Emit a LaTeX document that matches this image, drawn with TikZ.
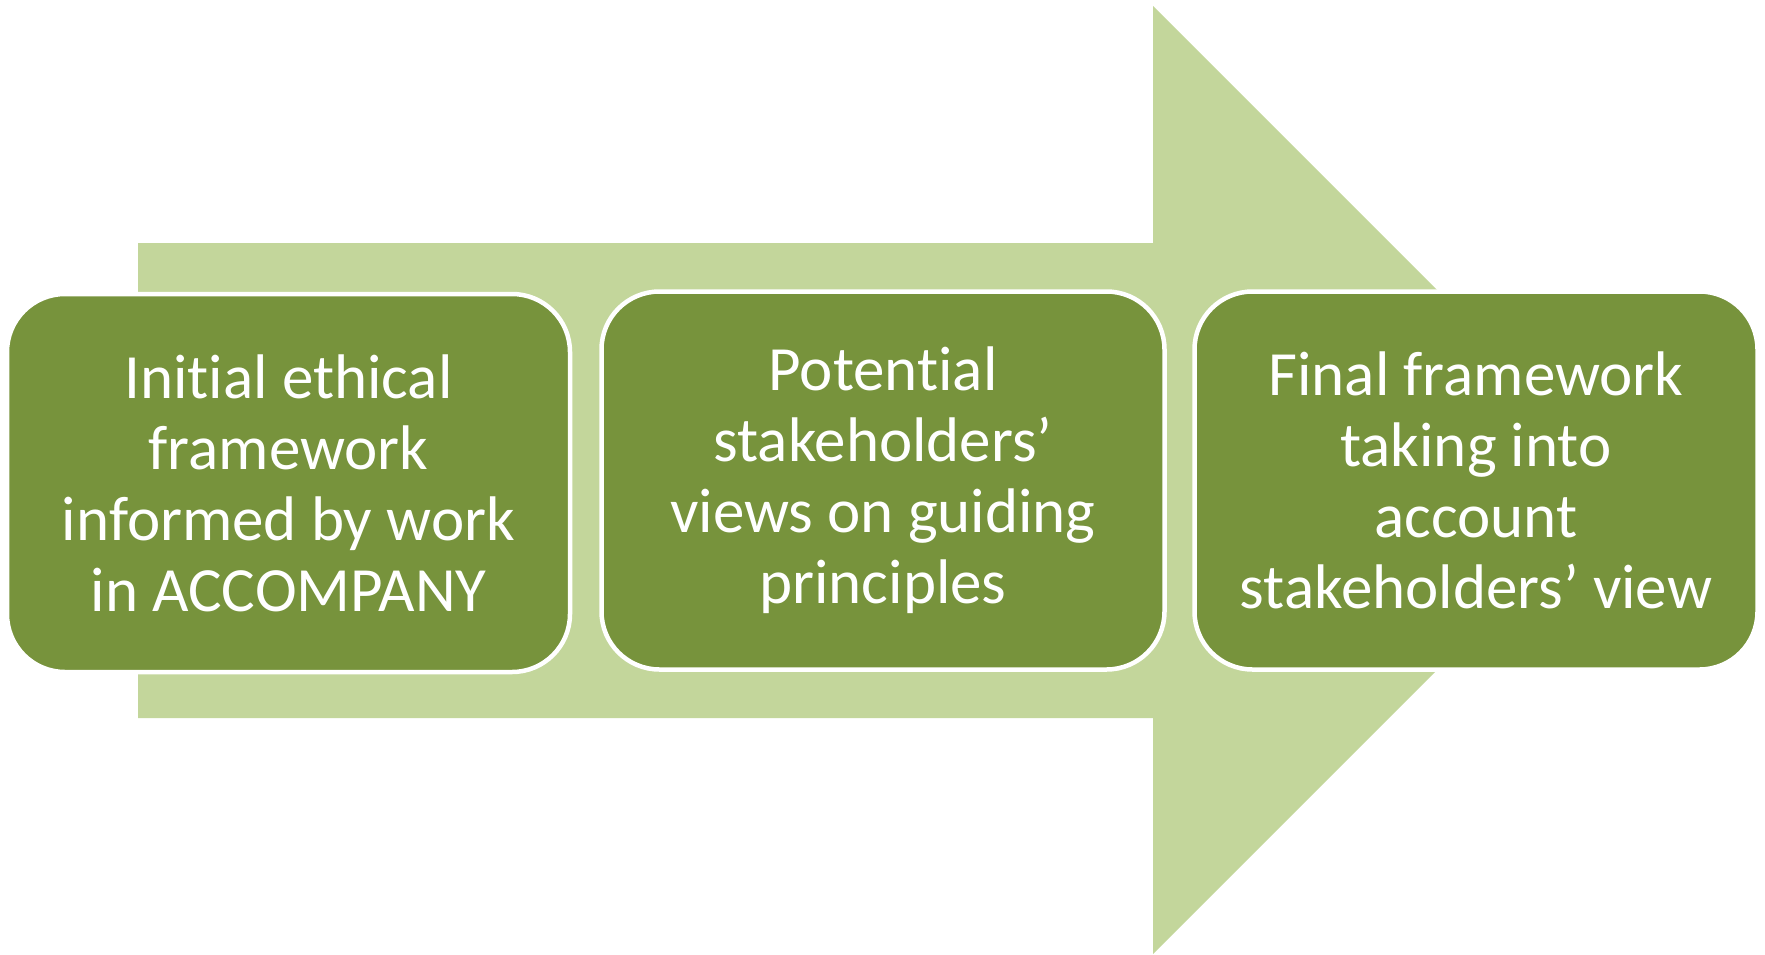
\documentclass[tikz,border=0pt]{standalone}
\usepackage{fontspec}
\setmainfont{Carlito}[Ligatures={NoCommon}]
\definecolor{darkolive}{RGB}{119,147,60}
\definecolor{lightolive}{RGB}{195,214,155}
\begin{document}
\begin{tikzpicture}[x=1pt,y=-1pt,
  stepbox/.style={fill=darkolive,draw=white,line width=4.5pt,rounded corners=58pt,
    minimum width=563pt,minimum height=378pt,inner sep=0pt,
    text=white,align=center,font=\fontsize{63}{71}\selectfont}]
\useasboundingbox (0,0) rectangle (1765,954);
\fill[lightolive] (138,243) -- (1153,243) -- (1153,6) -- (1627,480) -- (1153,954) -- (1153,718) -- (138,718) -- cycle;
\node[stepbox] (b1) at (288.5,483) {Initial ethical\\framework\\informed by work\\in ACCOMPANY};
\node[stepbox] (b2) at (883,480.5) {Potential\\stakeholders’\\views on guiding\\principles};
\node[stepbox] (b3) at (1476,480.5) {Final framework\\taking into\\account\\stakeholders’ view};
\end{tikzpicture}
\end{document}
